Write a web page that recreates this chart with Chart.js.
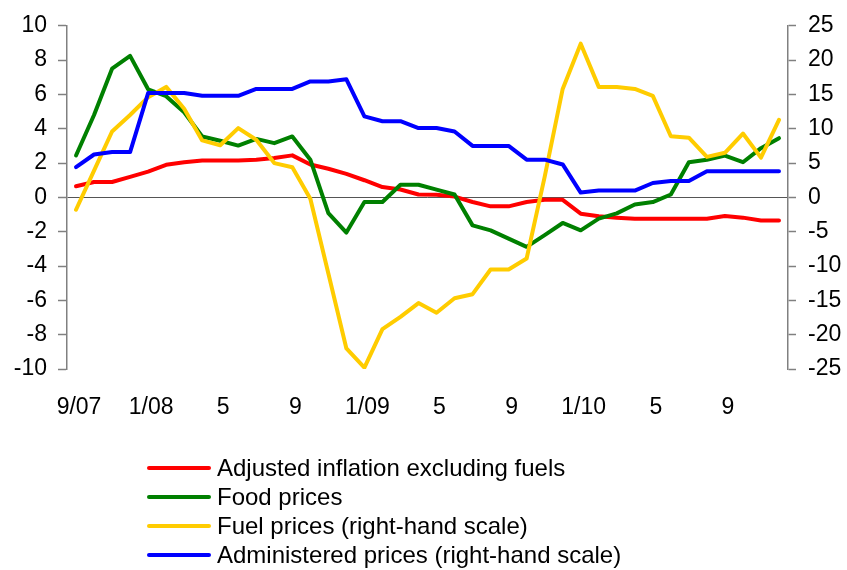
<!DOCTYPE html>
<html lang="en">
<head>
  <meta charset="UTF-8" />
  <title>Inflation components</title>
  <script src="https://cdn.jsdelivr.net/npm/chart.js@4.4.0/dist/chart.umd.min.js"></script>
  <style>
    *{margin:0;padding:0;box-sizing:border-box}
    body{background:#fff;font-family:Arial,"Liberation Sans",sans-serif;color:#000}
    .wrap{position:relative;width:847px;height:570px}
    .wrap canvas{position:absolute;left:0;top:0}
    .legend{position:absolute;left:147px;top:453px;font-size:24px;line-height:29px}
    .legend div{display:flex;align-items:center;white-space:nowrap}
    .legend span{display:inline-block;width:64px;height:4px;border-radius:2px;margin-right:6px}
  </style>
</head>
<body>
  <div class="wrap">
    <canvas id="chart" width="847" height="570"></canvas>
    <div class="legend" id="legend"></div>
  </div>
  <script>
    // months from 9/07 to 12/10, shown every 4th
    const months = ['9/07','10','11','12','1/08','2','3','4','5','6','7','8','9','10','11','12',
      '1/09','2','3','4','5','6','7','8','9','10','11','12',
      '1/10','2','3','4','5','6','7','8','9','10','11','12'];
    const leftTicks = [-10, 10, 2];   // min, max, step
    const rightTicks = [-25, 25, 5];

    // left-hand scale
    const adjustedInflation = [0.65,0.9,0.9,1.2,1.5,1.9,2.05,2.15,2.15,2.15,2.2,2.3,2.45,1.92,1.67,1.37,1.0,0.6,0.46,0.17,
      0.15,0.05,-0.27,-0.52,-0.52,-0.27,-0.14,-0.14,-0.95,-1.1,-1.18,-1.24,-1.24,-1.24,-1.24,-1.24,-1.08,-1.18,-1.35,-1.35];
    const foodPrices = [2.44,4.8,7.5,8.25,6.3,5.9,4.96,3.55,3.3,3.02,3.41,3.16,3.55,2.2,-0.92,-2.05,-0.27,-0.27,0.74,0.74,
      0.45,0.17,-1.63,-1.92,-2.4,-2.88,-2.2,-1.49,-1.92,-1.24,-0.93,-0.41,-0.27,0.17,2.05,2.19,2.44,2.05,2.87,3.45];
    // right-hand scale
    const fuelPrices = [-1.8,3.9,9.6,12.0,14.6,16.1,12.9,8.3,7.6,10.1,8.4,5.0,4.4,-0.2,-11.1,-22.0,-24.8,-19.2,-17.4,-15.4,
      -16.8,-14.7,-14.1,-10.5,-10.5,-8.9,3.0,15.8,22.4,16.1,16.1,15.8,14.8,8.9,8.7,5.9,6.5,9.3,5.8,11.3];
    const administeredPrices = [4.4,6.25,6.6,6.6,15.2,15.2,15.2,14.8,14.8,14.8,15.8,15.8,15.8,16.9,16.9,17.2,11.8,11.1,11.1,10.1,
      10.1,9.6,7.5,7.5,7.5,5.5,5.5,4.8,0.7,1.0,1.0,1.0,2.1,2.4,2.4,3.8,3.8,3.8,3.8,3.8];

    const font = {family:'Arial, "Liberation Sans", sans-serif', size:23};
    const line = (label, data, color, axis, order) => ({
      label, data, yAxisID: axis, order,
      borderColor: color, backgroundColor: color, borderWidth: 4,
      pointRadius: 0, tension: 0, borderJoinStyle: 'round', borderCapStyle: 'round'
    });

    const chart = new Chart(document.getElementById('chart'), {
      type: 'line',
      data: {
        labels: months,
        datasets: [
          line('Adjusted inflation excluding fuels', adjustedInflation, '#ff0000', 'y', 4),
          line('Food prices', foodPrices, '#008000', 'y', 3),
          line('Fuel prices (right-hand scale)', fuelPrices, '#ffcc00', 'y1', 2),
          line('Administered prices (right-hand scale)', administeredPrices, '#0000ff', 'y1', 1)
        ]
      },
      options: {
        responsive: false,
        animation: false,
        layout: {padding: {top: 25, left: 0, right: 0, bottom: 0}},
        plugins: {legend: {display: false}, tooltip: {enabled: false}},
        scales: {
          x: {
            offset: true,
            grid: {display: false, drawTicks: false},
            border: {display: false},
            ticks: {
              color: '#000', font, autoSkip: false, maxRotation: 0, padding: 25, labelOffset: 3,
              callback: (v, i) => i % 4 === 0 ? months[i] : ''
            },
            afterFit: s => { s.height = 201; }
          },
          y: {
            position: 'left',
            min: leftTicks[0], max: leftTicks[1],
            ticks: {stepSize: leftTicks[2], color: '#000', font, padding: 11},
            grid: {
              color: c => c.tick && c.tick.value === 0 ? '#555' : 'rgba(0,0,0,0)',
              lineWidth: 1, tickColor: '#808080', tickLength: 9, tickWidth: 1.5
            },
            border: {color: '#808080', width: 1.5},
            afterFit: s => { s.width = 67; }
          },
          y1: {
            position: 'right',
            min: rightTicks[0], max: rightTicks[1],
            ticks: {stepSize: rightTicks[2], color: '#000', font, padding: 12},
            grid: {drawOnChartArea: false, tickColor: '#808080', tickLength: 8, tickWidth: 1.5},
            border: {color: '#808080', width: 1.5},
            afterFit: s => { s.width = 59; }
          }
        }
      }
    });

    // legend, one entry per row
    const legend = document.getElementById('legend');
    chart.data.datasets.forEach(ds => {
      const row = document.createElement('div');
      row.innerHTML = '<span style="background:' + ds.borderColor + '"></span>' + ds.label;
      legend.appendChild(row);
    });
  </script>
</body>
</html>
